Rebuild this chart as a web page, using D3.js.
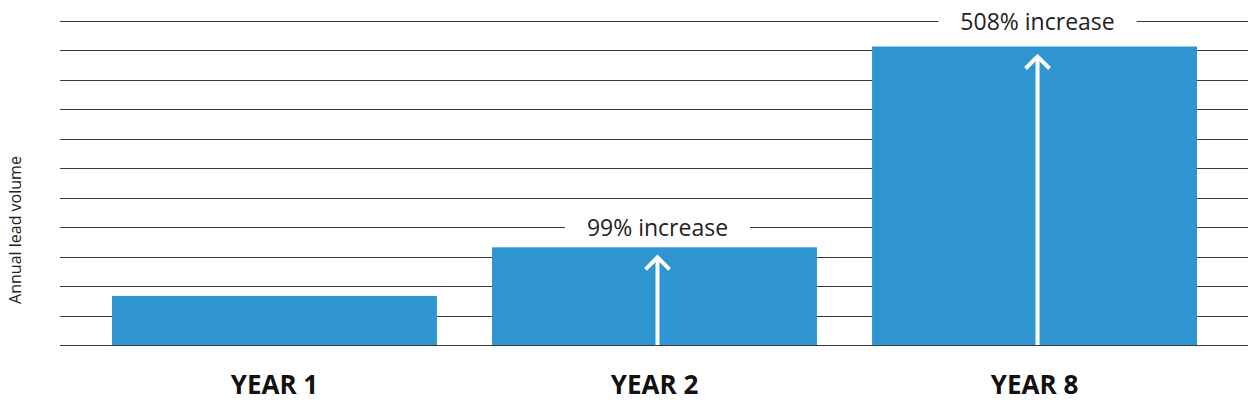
<!DOCTYPE html>
<html><head><meta charset="utf-8">
<script src="https://cdn.jsdelivr.net/npm/d3@7"></script>
<style>body{margin:0;background:#fff}svg{display:block;font-family:"Open Sans",sans-serif}</style>
</head><body><svg id="chart"></svg>
<script>
const categories = ['YEAR 1', 'YEAR 2', 'YEAR 8'];
const values = [100, 199, 608];
const increases = [null, '99% increase', '508% increase'];
const gridTicks = d3.range(0, 661, 60);

const width = 1256, height = 410;
const margin = { top: 21, right: 8, bottom: 65, left: 60 };

const svg = d3.select('#chart').attr('width', width).attr('height', height);

const x = d3.scaleBand().domain(categories)
  .range([margin.left + 14, width - margin.right - 13]).paddingInner(0.145).paddingOuter(0.1);
const y = d3.scaleLinear().domain([0, 660]).range([height - margin.bottom, margin.top]);

// grid
svg.append('g').selectAll('line').data(gridTicks).join('line')
  .attr('x1', margin.left).attr('x2', width - margin.right)
  .attr('y1', d => Math.round(y(d)) + 0.5).attr('y2', d => Math.round(y(d)) + 0.5)
  .attr('stroke', '#3a3a3a').attr('stroke-width', 1);

// bars
svg.append('g').selectAll('rect').data(values).join('rect')
  .attr('x', (d, i) => x(categories[i])).attr('width', x.bandwidth())
  .attr('y', d => y(d)).attr('height', d => y(0) - y(d))
  .attr('fill', '#2e95d0');

// x labels
svg.append('g').selectAll('text').data(categories).join('text')
  .attr('x', d => x(d) + x.bandwidth() / 2).attr('y', 394)
  .attr('text-anchor', 'middle').attr('font-size', 26).attr('font-weight', 700)
  .attr('fill', '#111').text(d => d);

// y label
svg.append('text').attr('transform', `translate(21,${(y(0) + y(660)) / 2 + 47}) rotate(-90)`)
  .attr('text-anchor', 'middle').attr('font-size', 16).attr('fill', '#222')
  .text('Annual lead volume');

// increase labels + arrows
categories.forEach((c, i) => {
  if (!increases[i]) return;
  const cx = x(c) + x.bandwidth() / 2 + 3;
  const labelY = Math.round(y(gridTicks.filter(t => t > values[i])[0])) + 0.5;
  const bg = svg.append('rect');
  const t = svg.append('text').attr('x', cx).attr('y', labelY + 8)
    .attr('text-anchor', 'middle').attr('font-size', 23).attr('fill', '#222')
    .text(increases[i]);
  const bb = t.node().getBBox();
  bg.attr('x', bb.x - 22).attr('width', bb.width + 44)
    .attr('y', labelY - 4).attr('height', 8).attr('fill', '#fff');
  const top = y(values[i]) + 9;
  svg.append('line').attr('x1', cx).attr('x2', cx).attr('y1', y(0)).attr('y2', top + 2)
    .attr('stroke', '#fff').attr('stroke-width', 4);
  svg.append('polyline').attr('points', `${cx - 12},${top + 13} ${cx},${top + 1} ${cx + 12},${top + 13}`)
    .attr('fill', 'none').attr('stroke', '#fff').attr('stroke-width', 4);
});
</script></body></html>
